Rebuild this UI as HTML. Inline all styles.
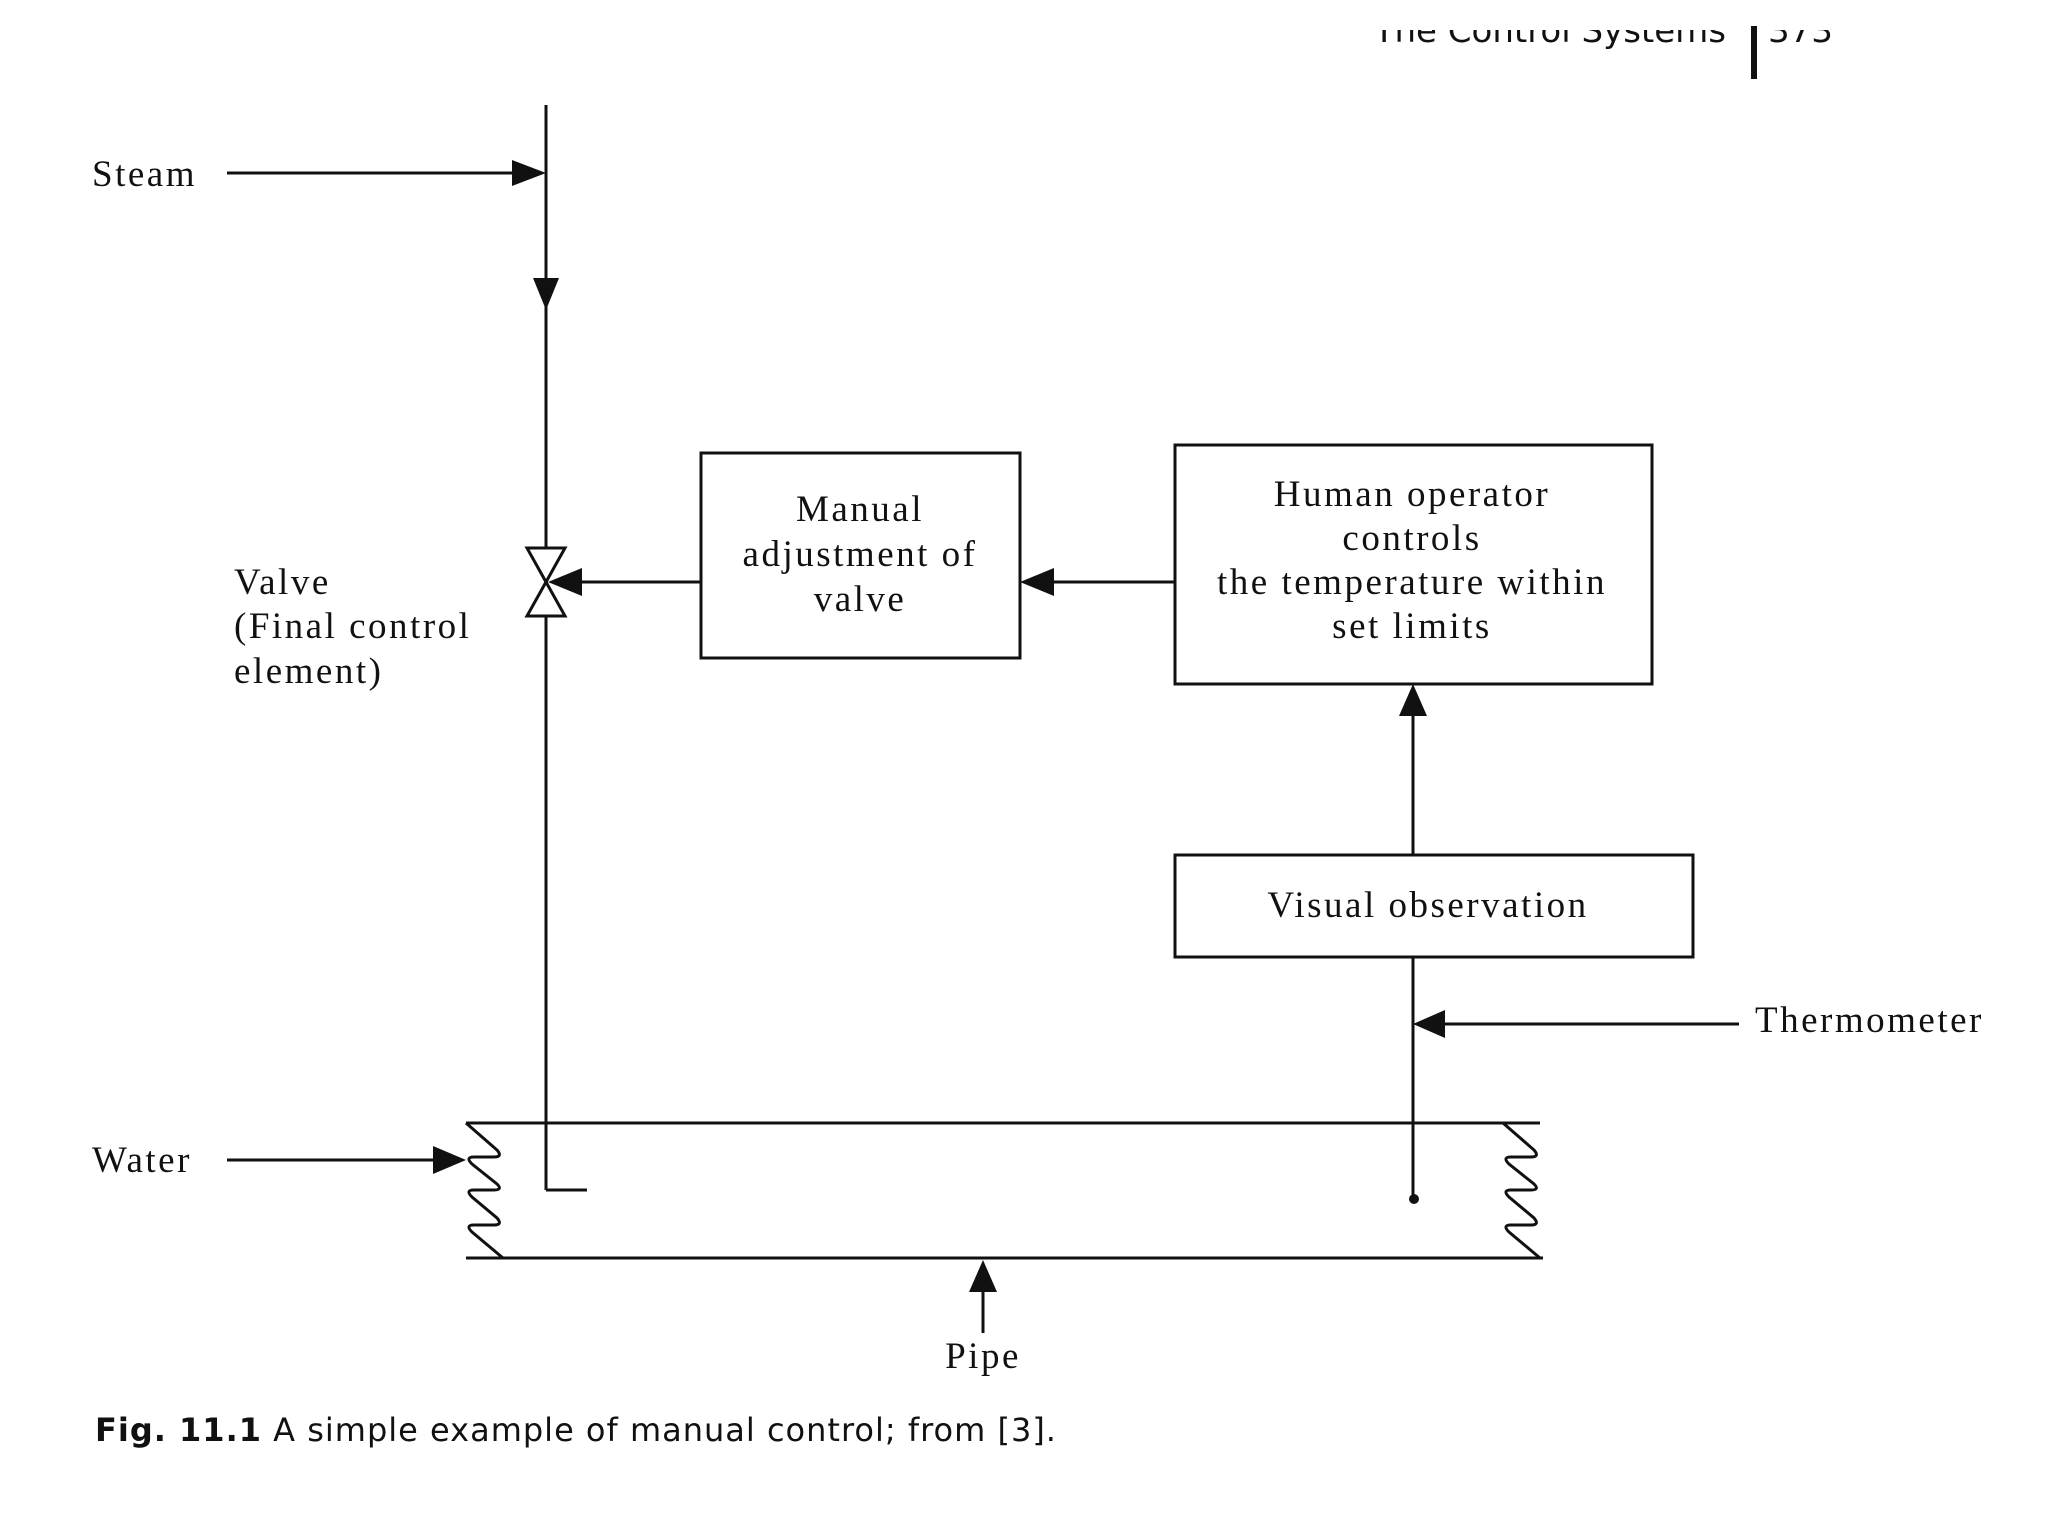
<!DOCTYPE html>
<html><head><meta charset="utf-8"><style>
html,body{margin:0;padding:0;background:#fff;}
svg{display:block}
text{font-family:"Liberation Serif",serif;fill:#111;}
text.s{font-family:"DejaVu Sans","Liberation Sans",sans-serif;}
</style></head><body>
<svg width="2048" height="1536" viewBox="0 0 2048 1536" xmlns="http://www.w3.org/2000/svg">
<defs><clipPath id="c"><rect x="0" y="30" width="2048" height="40"/></clipPath></defs>
<rect x="0" y="0" width="2048" height="1536" fill="#fff"/>
<g fill="#333" font-size="34" clip-path="url(#c)">
<text class="s" x="1726" y="42" text-anchor="end">The Control Systems</text>
<text class="s" x="1768" y="42">373</text>
</g>
<g stroke="#111" stroke-width="3" fill="none">
<line x1="1754" y1="26" x2="1754" y2="79" stroke-width="6"/>
<line x1="227" y1="173" x2="515" y2="173"/>
<line x1="546" y1="105" x2="546" y2="548"/>
<line x1="546" y1="616" x2="546" y2="1190"/>
<line x1="546" y1="1190" x2="587" y2="1190"/>
<polygon points="527,548 565,548 546,582" fill="#fff"/>
<polygon points="527,616 565,616 546,582" fill="#fff"/>
<rect x="701" y="453" width="319" height="205"/>
<line x1="580" y1="582" x2="701" y2="582"/>
<rect x="1175" y="445" width="477" height="239"/>
<line x1="1051" y1="582" x2="1175" y2="582"/>
<rect x="1175" y="855" width="518" height="102"/>
<line x1="1413" y1="715" x2="1413" y2="855"/>
<line x1="1413" y1="957" x2="1413" y2="1198"/>
<line x1="1443" y1="1024" x2="1739" y2="1024"/>
<line x1="466" y1="1123" x2="1540" y2="1123"/>
<line x1="466" y1="1258" x2="1543" y2="1258"/>
<path d="M466,1123 L497,1150 Q503,1157 494,1157 L474,1157 Q465,1157 472,1164 L497,1184 Q503,1190 494,1190 L474,1190 Q465,1190 472,1197 L497,1218 Q503,1225 494,1225 L474,1225 Q465,1225 472,1232 L503,1258"/>
<path d="M1503,1123 L1534,1150 Q1540,1157 1531,1157 L1511,1157 Q1502,1157 1509,1164 L1534,1184 Q1540,1190 1531,1190 L1511,1190 Q1502,1190 1509,1197 L1534,1218 Q1540,1225 1531,1225 L1511,1225 Q1502,1225 1509,1232 L1540,1258"/>
<line x1="227" y1="1160" x2="436" y2="1160"/>
<line x1="983" y1="1290" x2="983" y2="1333"/>
</g>
<g fill="#111">
<polygon points="546,173 512,160 512,186"/>
<polygon points="546,310 533,278 559,278"/>
<polygon points="548,582 582,568 582,596"/>
<polygon points="1020,582 1054,568 1054,596"/>
<polygon points="1413,684 1399,716 1427,716"/>
<polygon points="1413,1024 1445,1010 1445,1038"/>
<polygon points="466,1160 433,1146 433,1174"/>
<polygon points="983,1260 969,1292 997,1292"/>
<circle cx="1414" cy="1199" r="5"/>
</g>
<g font-size="37" letter-spacing="2.5">
<text x="92" y="186">Steam</text>
<text x="92" y="1172">Water</text>
<text x="234" y="594">Valve</text>
<text x="234" y="638">(Final control</text>
<text x="234" y="683">element)</text>
<text x="860" y="521" text-anchor="middle">Manual</text>
<text x="860" y="566" text-anchor="middle">adjustment of</text>
<text x="860" y="611" text-anchor="middle">valve</text>
<text x="1412" y="506" text-anchor="middle">Human operator</text>
<text x="1412" y="550" text-anchor="middle">controls</text>
<text x="1412" y="594" text-anchor="middle">the temperature within</text>
<text x="1412" y="638" text-anchor="middle">set limits</text>
<text x="1428" y="917" text-anchor="middle">Visual observation</text>
<text x="1755" y="1032">Thermometer</text>
<text x="983" y="1368" text-anchor="middle">Pipe</text>
</g>
<text class="s" x="95" y="1441" font-size="32" letter-spacing="1"><tspan font-weight="bold">Fig. 11.1</tspan> A simple example of manual control; from [3].</text>
</svg>
</body></html>
